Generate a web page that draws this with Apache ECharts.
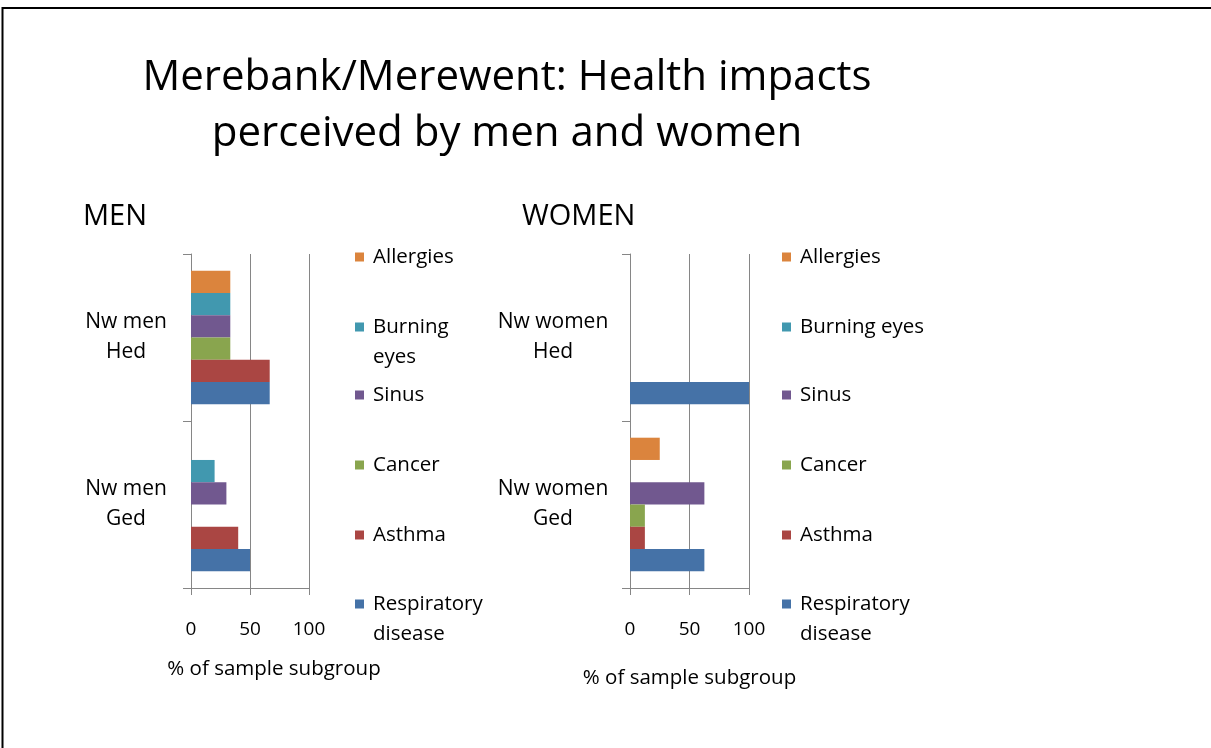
<!DOCTYPE html>
<html>
<head>
<meta charset="utf-8">
<script src="https://cdn.jsdelivr.net/npm/echarts@6/dist/echarts.min.js"></script>
<style>
  html, body { margin: 0; padding: 0; background: #fff; }
  #chart { width: 1211px; height: 748px; }
</style>
</head>
<body>
<div id="chart"></div>
<script>
// ---------------- data ----------------
const titleText = 'Merebank/Merewent: Health impacts\nperceived by men and women';
const menCategories = ['Nw men\nGed', 'Nw men\nHed'];      // bottom -> top
const womenCategories = ['Nw women\nGed', 'Nw women\nHed'];
// series in drawing order (top of each group first)
const seriesNames = ['Allergies', 'Burning eyes', 'Sinus', 'Cancer', 'Asthma', 'Respiratory disease'];
const seriesColors = ['#DB843D', '#4198AF', '#71588F', '#89A54E', '#AA4643', '#4572A7'];

// values: [Ged, Hed] (% of sample subgroup)
const menAllergies = [0, 33.3];
const menBurningEyes = [20, 33.3];
const menSinus = [30, 33.3];
const menCancer = [0, 33.3];
const menAsthma = [40, 66.7];
const menRespiratory = [50, 66.7];

const womenAllergies = [25, 0];
const womenBurningEyes = [0, 0];
const womenSinus = [62.5, 0];
const womenCancer = [12.5, 0];
const womenAsthma = [12.5, 0];
const womenRespiratory = [62.5, 100];

const xTicks = [0, 50, 100];
const axisName = '% of sample subgroup';

// legend entries, top -> bottom, as they are wrapped in the picture
const menLegendLabels = ['Allergies', 'Burning\neyes', 'Sinus', 'Cancer', 'Asthma', 'Respiratory\ndisease'];
const womenLegendLabels = ['Allergies', 'Burning eyes', 'Sinus', 'Cancer', 'Asthma', 'Respiratory\ndisease'];

// ---------------- chart ----------------
const FONT = 'Open Sans';
const menValues = [menAllergies, menBurningEyes, menSinus, menCancer, menAsthma, menRespiratory];
const womenValues = [womenAllergies, womenBurningEyes, womenSinus, womenCancer, womenAsthma, womenRespiratory];

const chart = echarts.init(document.getElementById('chart'), null, { renderer: 'canvas' });

function xAxisCfg(gridIndex, nameGap, namePad) {
  return {
    type: 'value', gridIndex, min: xTicks[0], max: xTicks[xTicks.length - 1], interval: xTicks[1] - xTicks[0],
    axisLine: { show: true, lineStyle: { color: '#868686', width: 1 } },
    axisTick: { show: true, length: 7, lineStyle: { color: '#868686' } },
    splitLine: { show: true, lineStyle: { color: '#868686', width: 1 } },
    axisLabel: { color: '#000', fontFamily: FONT, fontSize: 19, margin: 32 },
    name: axisName, nameLocation: 'middle', nameGap,
    nameTextStyle: { color: '#000', fontFamily: FONT, fontSize: 20.5, padding: namePad }
  };
}
function yAxisCfg(gridIndex, cats, margin) {
  return {
    type: 'category', gridIndex, data: cats,
    axisLine: { show: true, lineStyle: { color: '#868686', width: 1 } },
    axisTick: { show: true, length: 8, lineStyle: { color: '#868686' } },
    axisLabel: { color: '#000', fontFamily: FONT, fontSize: 21, lineHeight: 30, align: 'center', margin }
  };
}

const series = [];
seriesNames.forEach((n, i) => {
  series.push({ name: n, type: 'bar', xAxisIndex: 0, yAxisIndex: 0, data: menValues[i],
    itemStyle: { color: seriesColors[i] }, barGap: '0%', barCategoryGap: '20%', animation: false });
});
seriesNames.forEach((n, i) => {
  series.push({ name: n, type: 'bar', xAxisIndex: 1, yAxisIndex: 1, data: womenValues[i],
    itemStyle: { color: seriesColors[i] }, barGap: '0%', barCategoryGap: '20%', animation: false });
});

// square marker at the top of a tall (two-line) legend item
const tallIcon = 'path://M0,0L9,0L9,9L0,9Z M0,39L0,39Z';
const markerY = [257, 327, 395, 465, 535, 604];
const legends = [];
function addLegends(left, labels) {
  seriesNames.forEach((name, i) => {
    const lab = labels[i];
    const twoLine = lab.indexOf('\n') >= 0;
    legends.push({
      data: [name], left, top: markerY[i] - 15,
      orient: 'vertical', padding: 0, itemWidth: 9, itemHeight: twoLine ? 39 : 9,
      icon: twoLine ? tallIcon : 'rect',
      selectedMode: false,
      formatter: () => lab,
      textStyle: { color: '#000', fontFamily: FONT, fontSize: 20.5, lineHeight: 30, padding: [0, 0, 0, 4] }
    });
  });
}
addLegends(355, menLegendLabels);
addLegends(782, womenLegendLabels);

const option = {
  backgroundColor: '#fff',
  animation: false,
  title: [
    { text: titleText, left: 502, top: 45, textAlign: 'center',
      textStyle: { color: '#000', fontFamily: FONT, fontWeight: 'normal', fontSize: 42, lineHeight: 56 } },
    { text: 'MEN', left: 83, top: 201, padding: 0,
      textStyle: { color: '#000', fontFamily: FONT, fontWeight: 'normal', fontSize: 29, lineHeight: 32 } },
    { text: 'WOMEN', left: 522, top: 201, padding: 0,
      textStyle: { color: '#000', fontFamily: FONT, fontWeight: 'normal', fontSize: 29, lineHeight: 32 } }
  ],
  legend: legends,
  grid: [
    { left: 191, top: 254, width: 118, height: 334, containLabel: false },
    { left: 630, top: 254, width: 119, height: 334, containLabel: false }
  ],
  xAxis: [xAxisCfg(0, 71, [0, 0, 0, 48]), xAxisCfg(1, 80, [0, 0, 0, 0])],
  yAxis: [yAxisCfg(0, menCategories, 65), yAxisCfg(1, womenCategories, 77)],
  series,
  graphic: [{
    type: 'polyline', silent: true,
    shape: { points: [[2.5, 748], [2.5, 8], [1211, 8]] },
    style: { stroke: '#000', lineWidth: 2, fill: null }
  }]
};
chart.setOption(option);
</script>
</body>
</html>
